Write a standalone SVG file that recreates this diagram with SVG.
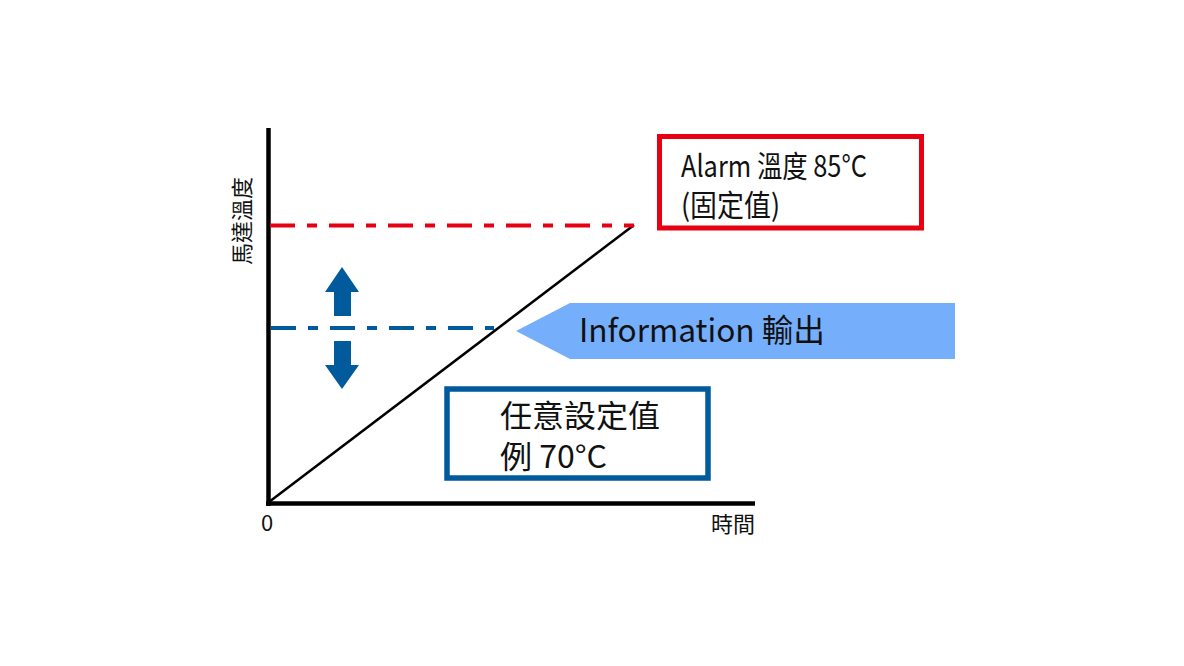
<svg xmlns="http://www.w3.org/2000/svg" width="1184" height="666" viewBox="0 0 1184 666">
<style>
text{font-family:"Noto Sans CJK TC","Noto Sans",sans-serif;fill:#111;}
.dash{fill:none;stroke-width:4;stroke-dasharray:25 12 10 12;}
</style>
<rect width="1184" height="666" fill="#fff"/>
<g id="connectors">
<line x1="268.5" y1="128" x2="268.5" y2="506" stroke="#000" stroke-width="4.5"/>
<line x1="266" y1="503.5" x2="755" y2="503.5" stroke="#000" stroke-width="4.5"/>
<line x1="269" y1="502" x2="634" y2="225" stroke="#000" stroke-width="2.5"/>
<line class="dash" x1="270" y1="225.5" x2="634" y2="225.5" stroke="#e60012"/>
<line class="dash" x1="271" y1="328" x2="494" y2="328" stroke="#005a9c"/>
<polygon points="342,267 359,292 351,292 351,316 334,316 334,292 325,292" fill="#005a9c"/>
<polygon points="342,389 359,365 351,365 351,341 334,341 334,365 325,365" fill="#005a9c"/>
</g>
<g id="y-label"><text transform="translate(250,221) rotate(-90)" font-size="22" text-anchor="middle">馬達溫度</text></g>
<g id="x-label"><text x="755" y="532" font-size="22" text-anchor="end">時間</text></g>
<g id="origin"><text x="261" y="531" font-size="22">0</text></g>
<g id="alarm">
<rect x="659.5" y="136.5" width="262" height="91.5" fill="#fff" stroke="#e60012" stroke-width="5"/>
<text x="681" y="177" font-size="30" textLength="186" lengthAdjust="spacingAndGlyphs">Alarm 溫度 85°C</text>
<text x="681" y="216" font-size="30" textLength="99" lengthAdjust="spacingAndGlyphs">(固定值)</text>
</g>
<g id="info">
<polygon points="516,331 570,303 955,303 955,359 570,359" fill="#75aefa"/>
<text x="579" y="342" font-size="32" textLength="246" lengthAdjust="spacingAndGlyphs">Information 輸出</text>
</g>
<g id="setpoint">
<rect x="447" y="389" width="261" height="89" fill="#fff" stroke="#005a9c" stroke-width="5.5"/>
<text x="500" y="427" font-size="31" textLength="160" lengthAdjust="spacingAndGlyphs">任意設定值</text>
<text x="500" y="468" font-size="31" textLength="107" lengthAdjust="spacingAndGlyphs">例 70°C</text>
</g>
</svg>
